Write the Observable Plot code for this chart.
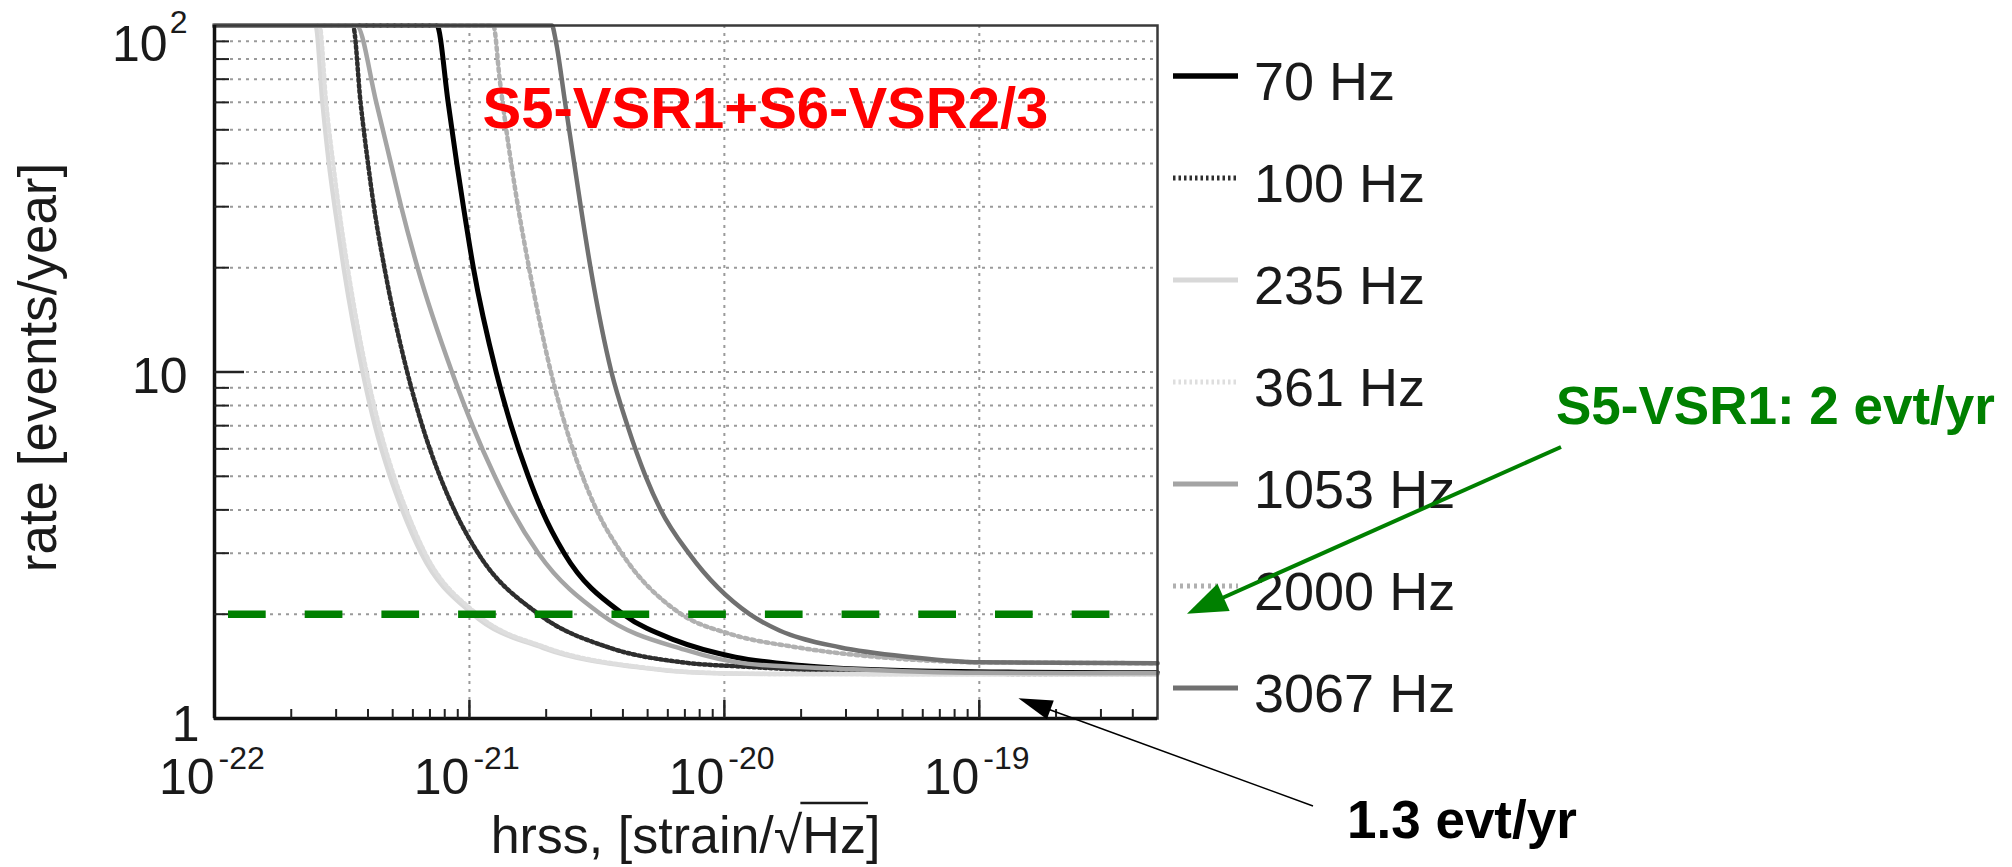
<!DOCTYPE html>
<html>
<head>
<meta charset="utf-8">
<script src="https://cdn.jsdelivr.net/npm/d3@7"></script>
<script src="https://cdn.jsdelivr.net/npm/@observablehq/plot@0.6"></script>
<style>
  html, body { margin: 0; padding: 0; background: #ffffff; }
  #chart { width: 2012px; height: 867px; }
</style>
</head>
<body>
<div id="chart"></div>
<script>
// Upper limits on the burst event rate versus hrss, one curve per sine-Gaussian
// central frequency. Each series holds [hrss (strain/√Hz), rate (events/year)] pairs.
const frequencies = ["70 Hz", "100 Hz", "235 Hz", "361 Hz", "1053 Hz", "2000 Hz", "3067 Hz"];

const rate70 = [
  [1e-22, 100], [7.45e-22, 100], [8.25e-22, 60], [8.92e-22, 40], [9.47e-22, 30],
  [1.036e-21, 20], [1.273e-21, 10], [1.458e-21, 7], [1.702e-21, 5], [1.921e-21, 4],
  [2.353e-21, 3], [4.01e-21, 2], [6.44e-21, 1.68], [1.106e-20, 1.503], [2.006e-20, 1.422],
  [4.94e-20, 1.375], [1.5e-19, 1.36], [5e-19, 1.355]
];
const rate100 = [
  [1e-22, 100], [3.49e-22, 100], [3.74e-22, 60], [4.00e-22, 40], [4.22e-22, 30],
  [4.64e-22, 20], [5.70e-22, 10], [6.53e-22, 7], [7.66e-22, 5], [8.72e-22, 4],
  [1.081e-21, 3], [1.87e-21, 2], [3.55e-21, 1.6], [6.99e-21, 1.45], [1.22e-20, 1.41],
  [4.05e-20, 1.36], [1.5e-19, 1.345], [5e-19, 1.345]
];
const rate235 = [
  [1e-22, 100], [2.49e-22, 100], [2.65e-22, 60], [2.81e-22, 40], [2.96e-22, 30],
  [3.21e-22, 20], [3.81e-22, 10], [4.26e-22, 7], [4.88e-22, 5], [5.45e-22, 4],
  [6.47e-22, 3], [1.032e-21, 2], [1.94e-21, 1.6], [4.78e-21, 1.40], [7.31e-21, 1.36],
  [1.5e-20, 1.345], [5e-19, 1.34]
];
const rate361 = [
  [1e-22, 100], [2.58e-22, 100], [2.74e-22, 60], [2.92e-22, 40], [3.07e-22, 30],
  [3.33e-22, 20], [3.95e-22, 10], [4.42e-22, 7], [5.06e-22, 5], [5.65e-22, 4],
  [6.70e-22, 3], [1.07e-21, 2], [2.01e-21, 1.6], [4.96e-21, 1.40], [7.58e-21, 1.36],
  [1.5e-20, 1.345], [5e-19, 1.34]
];
const rate1053 = [
  [1e-22, 100], [3.60e-22, 100], [4.31e-22, 60], [4.92e-22, 40], [5.40e-22, 30],
  [6.26e-22, 20], [8.54e-22, 10], [1.028e-21, 7], [1.257e-21, 5], [1.463e-21, 4],
  [1.863e-21, 3], [3.28e-21, 2], [6.98e-21, 1.58], [1.22e-20, 1.44], [3.0e-20, 1.39],
  [1e-19, 1.355], [5e-19, 1.35]
];
const rate2000 = [
  [1e-22, 100], [1.241e-21, 100], [1.314e-21, 70], [1.395e-21, 50], [1.458e-21, 40],
  [1.551e-21, 30], [1.713e-21, 20], [2.087e-21, 10], [2.379e-21, 7], [2.777e-21, 5],
  [3.153e-21, 4], [3.955e-21, 3], [6.78e-21, 2], [1.048e-20, 1.756], [1.912e-20, 1.606],
  [4.05e-20, 1.503], [9.98e-20, 1.453], [5e-19, 1.444]
];
const rate3067 = [
  [1e-22, 100], [2.106e-21, 100], [2.183e-21, 90], [2.372e-21, 60], [2.577e-21, 40],
  [2.733e-21, 30], [2.985e-21, 20], [3.605e-21, 10], [4.168e-21, 7], [4.910e-21, 5],
  [5.626e-21, 4], [7.247e-21, 3], [1.256e-20, 2], [1.645e-20, 1.795], [2.83e-20, 1.606],
  [5.46e-20, 1.503], [9.98e-20, 1.453], [5e-19, 1.444]
];
const rateSeries = [rate70, rate100, rate235, rate361, rate1053, rate2000, rate3067];

// S5-VSR1 limit drawn as the dashed reference level
const s5Limit = [2];

// Axis ticks and labels
const xDecades = [1e-22, 1e-21, 1e-20, 1e-19];
const xDecadeExponents = ["-22", "-21", "-20", "-19"];
const xMinorTicks = [
  2e-22, 3e-22, 4e-22, 5e-22, 6e-22, 7e-22, 8e-22, 9e-22,
  2e-21, 3e-21, 4e-21, 5e-21, 6e-21, 7e-21, 8e-21, 9e-21,
  2e-20, 3e-20, 4e-20, 5e-20, 6e-20, 7e-20, 8e-20, 9e-20,
  2e-19, 3e-19, 4e-19
];
const yTicks = [1, 10, 100];
const yTickMantissa = ["1", "10", "10"];
const yTickExponent = ["", "", "2"];
const yGridValues = [2, 3, 4, 5, 6, 7, 8, 9, 10, 20, 30, 40, 50, 60, 70, 80, 90];

// Line appearance for each frequency, in legend order
const lineStyles = [
  {stroke: "#000000", width: 5,   dash: null},
  {stroke: "#2e2e2e", width: 4.5, dash: "2.5,3"},
  {stroke: "#d8d8d8", width: 4.5, dash: null},
  {stroke: "#dedede", width: 4.5, dash: "2.5,3"},
  {stroke: "#a4a4a4", width: 4.5, dash: null},
  {stroke: "#b0b0b0", width: 4.5, dash: "3,4"},
  {stroke: "#707070", width: 4.5, dash: null}
];

const W = 2012, H = 867;
const M = {left: 214, right: 855, top: 25, bottom: 149};
const frameW = W - M.left - M.right;
const frameH = H - M.top - M.bottom;
const FONT = "'Liberation Sans', Arial, Helvetica, sans-serif";
const INK = "#1a1a1a";

// y label layout: offsets of mantissa and exponent for each tick
const yLabelLayout = [
  {dx: -15, dy: 22, edx: 0, edy: 0},
  {dx: -27, dy: 21, edx: 0, edy: 0},
  {dx: -47, dy: 35, edx: -27, edy: 7}
];

const marks = [
  // dotted grid
  Plot.ruleY(yGridValues, {stroke: "#9a9a9a", strokeWidth: 2, strokeDasharray: "3,5"}),
  Plot.ruleX(xDecades.slice(1), {stroke: "#9a9a9a", strokeWidth: 2, strokeDasharray: "3,5"}),
  // rate curves
  ...rateSeries.map((data, i) => Plot.line(data, {
    x: d => d[0], y: d => d[1],
    stroke: lineStyles[i].stroke,
    strokeWidth: lineStyles[i].width,
    strokeDasharray: lineStyles[i].dash,
    curve: "monotone-x"
  })),
  // frame and axis lines
  Plot.frame({stroke: "#3a3a3a", strokeWidth: 2.5}),
  Plot.ruleX([1e-22], {stroke: "#111", strokeWidth: 3.5}),
  Plot.ruleY([1], {stroke: "#111", strokeWidth: 3.5}),
  // inward ticks
  Plot.tickY(yGridValues.filter(v => v !== 10), {y: d => d, stroke: "#222", strokeWidth: 2, insetRight: frameW - 15}),
  Plot.tickY([10], {y: d => d, stroke: "#222", strokeWidth: 2.5, insetRight: frameW - 30}),
  Plot.tickX(xMinorTicks, {x: d => d, stroke: "#222", strokeWidth: 2, insetTop: frameH - 9}),
  Plot.tickX(xDecades.slice(1), {x: d => d, stroke: "#222", strokeWidth: 2.5, insetTop: frameH - 18}),
  // x tick labels 10^n
  Plot.text(xDecades, {x: d => d, frameAnchor: "bottom", text: () => "10", textAnchor: "end",
    lineAnchor: "bottom", dy: 75, fontSize: 50, fill: INK}),
  Plot.text(xDecades, {x: d => d, frameAnchor: "bottom", text: (d, i) => xDecadeExponents[i], textAnchor: "start",
    lineAnchor: "bottom", dx: 4, dy: 50, fontSize: 32, fill: INK}),
  // y tick labels
  ...yTicks.map((v, i) => Plot.text([v], {y: d => d, frameAnchor: "left", text: () => yTickMantissa[i],
    textAnchor: "end", lineAnchor: "bottom", dx: yLabelLayout[i].dx, dy: yLabelLayout[i].dy, fontSize: 50, fill: INK})),
  ...yTicks.filter((v, i) => yTickExponent[i]).map(v => {
    const i = yTicks.indexOf(v);
    return Plot.text([v], {y: d => d, frameAnchor: "left", text: () => yTickExponent[i],
      textAnchor: "end", lineAnchor: "bottom", dx: yLabelLayout[i].edx, dy: yLabelLayout[i].edy, fontSize: 32, fill: INK});
  }),
  // S5-VSR1 reference level
  Plot.ruleY(s5Limit, {stroke: "#008000", strokeWidth: 7.5, strokeDasharray: "37.7,39", insetLeft: 14, insetRight: 43}),
  // run label
  Plot.text(["S5-VSR1+S6-VSR2/3"], {frameAnchor: "top-left", textAnchor: "start", lineAnchor: "bottom",
    dx: 268, dy: 102, fill: "#ff0000", fontWeight: "bold", fontSize: 58})
];

const chart = Plot.plot({
  width: W, height: H,
  marginLeft: M.left, marginRight: M.right, marginTop: M.top, marginBottom: M.bottom,
  x: {type: "log", domain: [1e-22, 5e-19], axis: null},
  y: {type: "log", domain: [1, 100], axis: null},
  style: {fontFamily: FONT, background: "#ffffff", color: INK},
  marks
});
document.getElementById("chart").appendChild(chart);

const svg = d3.select(chart);
const xs = chart.scale("x"), ys = chart.scale("y");
const frameRight = W - M.right;

// axis titles
svg.append("text")
  .attr("transform", `translate(56,${(M.top + H - M.bottom) / 2 - 4}) rotate(-90)`)
  .attr("text-anchor", "middle").attr("font-family", FONT).attr("font-size", 53).attr("fill", INK)
  .text("rate [events/year]");

const xTitle = svg.append("text")
  .attr("x", (M.left + frameRight) / 2).attr("y", 853)
  .attr("text-anchor", "middle").attr("font-family", FONT).attr("font-size", 52).attr("fill", INK);
xTitle.append("tspan").text("hrss, [strain/");
xTitle.append("tspan").text("√");
xTitle.append("tspan").text("Hz");
xTitle.append("tspan").text("]");
{
  const node = xTitle.node();
  const rootEnd = node.getEndPositionOfChar(14).x;
  const zEnd = node.getEndPositionOfChar(16).x;
  svg.append("line").attr("x1", rootEnd - 2).attr("x2", zEnd + 2)
    .attr("y1", 853 - 50).attr("y2", 853 - 50)
    .attr("stroke", INK).attr("stroke-width", 2.5);
}

// legend
const legend = svg.append("g").attr("font-family", FONT).attr("font-size", 54)
  .attr("fill", INK).attr("text-anchor", "start");
frequencies.forEach((label, i) => {
  const y = 76 + 102 * i;
  const s = lineStyles[i];
  legend.append("line")
    .attr("x1", 1173).attr("x2", 1238).attr("y1", y).attr("y2", y)
    .attr("stroke", s.stroke).attr("stroke-width", s.width + 0.5)
    .attr("stroke-dasharray", s.dash);
  legend.append("text").attr("x", 1254).attr("y", y + 24).text(label);
});

// annotations
function arrow(g, from, to, color, width, headLen, headHalf) {
  const dx = to[0] - from[0], dy = to[1] - from[1];
  const len = Math.hypot(dx, dy);
  const ux = dx / len, uy = dy / len;
  const bx = to[0] - ux * headLen, by = to[1] - uy * headLen;
  g.append("line")
    .attr("x1", from[0]).attr("y1", from[1]).attr("x2", bx + ux * 2).attr("y2", by + uy * 2)
    .attr("stroke", color).attr("stroke-width", width);
  g.append("polygon")
    .attr("points", [[to[0], to[1]], [bx - uy * headHalf, by + ux * headHalf], [bx + uy * headHalf, by - ux * headHalf]]
      .map(p => p.join(",")).join(" "))
    .attr("fill", color);
}
const notes = svg.append("g").attr("text-anchor", "start");
notes.append("text").attr("x", 1556).attr("y", 424)
  .attr("font-family", FONT).attr("font-weight", "bold").attr("font-size", 53).attr("fill", "#008000")
  .text("S5-VSR1: 2 evt/yr");
arrow(notes, [1561, 447], [frameRight + 30, ys.apply(s5Limit[0])], "#008000", 4, 40, 15);

notes.append("text").attr("x", 1347).attr("y", 838)
  .attr("font-family", FONT).attr("font-weight", "bold").attr("font-size", 53).attr("fill", "#000")
  .text("1.3 evt/yr");
arrow(notes, [1313, 806], [xs.apply(1.43e-19), ys.apply(1.14)], "#000", 1.5, 34, 10);
</script>
</body>
</html>
